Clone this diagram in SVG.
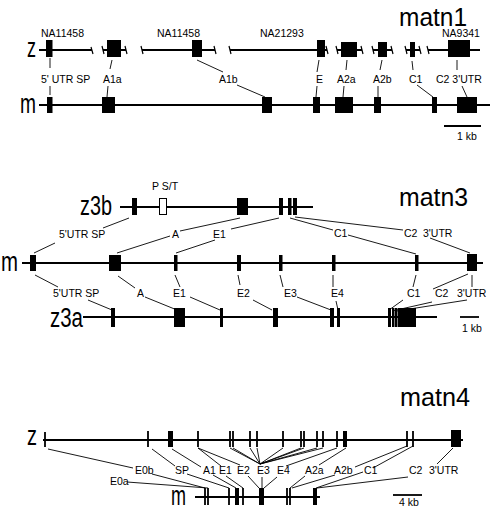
<svg xmlns="http://www.w3.org/2000/svg" width="492" height="508" viewBox="0 0 492 508">
<style>
.ln{stroke:#000;stroke-width:1.8;fill:none}
.tk{stroke:#000;stroke-width:1.2;fill:none}
.cn{stroke:#000;stroke-width:0.9;fill:none}
.ex{fill:#000}
.op{fill:#fff;stroke:#000;stroke-width:1}
.lb{font-family:"Liberation Sans",Arial,sans-serif;font-size:10.5px;fill:#000}
.big{font-family:"Liberation Sans",Arial,sans-serif;font-size:27px;fill:#000}
.ttl{font-family:"Liberation Sans",Arial,sans-serif;font-size:25px;fill:#000}
</style>
<rect width="492" height="508" fill="#fff"/>

<!-- matn1 -->
<g id="matn1-title"><text class="ttl" x="399" y="26" textLength="68" lengthAdjust="spacingAndGlyphs">matn1</text></g>
<g id="matn1-z">
<text class="big" x="27" y="57" textLength="9" lengthAdjust="spacingAndGlyphs">z</text>
<path class="ln" d="M39 50H92M103 50H126M142 50H215M230 50H327M337 50H362M373 50H392M406 50H420M428 50H480"/>
<path class="tk" d="M91 47L93 54M102 46L104 54M125 46L127 54M141 46L143 54M214 46L216 54M229 46L231 54M326 46L328 54M336 46L338 54M361 46L363 54M372 46L374 54M391 46L393 54M405 46L407 54M419 46L421 54M427 46L429 54"/>
<rect class="ex" x="46" y="40" width="6.5" height="17"/>
<rect class="ex" x="107" y="40" width="14" height="17"/>
<rect class="ex" x="192" y="40" width="10" height="17"/>
<rect class="ex" x="317" y="40" width="8" height="17"/>
<rect class="ex" x="341" y="42" width="16" height="15"/>
<rect class="ex" x="378" y="42" width="9" height="15"/>
<rect class="ex" x="410" y="42" width="5" height="15"/>
<rect class="ex" x="448" y="40" width="22" height="17"/>
<text class="lb" x="41" y="37">NA11458</text>
<text class="lb" x="157" y="37">NA11458</text>
<text class="lb" x="260" y="37">NA21293</text>
<text class="lb" x="442" y="37">NA9341</text>
</g>
<g id="matn1-m">
<text class="big" x="20" y="113" textLength="16" lengthAdjust="spacingAndGlyphs">m</text>
<path class="ln" d="M39 105H490"/>
<rect class="ex" x="47" y="97" width="5.5" height="16"/>
<rect class="ex" x="102" y="97" width="13" height="16"/>
<rect class="ex" x="262" y="97" width="10" height="16"/>
<rect class="ex" x="313" y="97" width="7" height="16"/>
<rect class="ex" x="335" y="97" width="18" height="16"/>
<rect class="ex" x="374" y="97" width="7" height="16"/>
<rect class="ex" x="432" y="97" width="5" height="16"/>
<rect class="ex" x="457" y="97" width="20" height="16"/>
</g>
<g id="matn1-labels">
<text class="lb" x="41" y="83">5' UTR SP</text>
<text class="lb" x="103" y="83">A1a</text>
<text class="lb" x="219" y="83">A1b</text>
<text class="lb" x="316" y="83">E</text>
<text class="lb" x="337" y="83">A2a</text>
<text class="lb" x="373" y="83">A2b</text>
<text class="lb" x="409" y="83">C1</text>
<text class="lb" x="436" y="83">C2 3'UTR</text>
</g>
<g id="matn1-scale">
<path class="ln" d="M444 126H481"/>
<text class="lb" x="457" y="140">1 kb</text>
</g>

<!-- matn3 -->
<g id="matn3-title"><text class="ttl" x="399" y="206" textLength="69" lengthAdjust="spacingAndGlyphs">matn3</text></g>
<g id="matn3-z3b">
<text class="big" x="80" y="215" textLength="32" lengthAdjust="spacingAndGlyphs">z3b</text>
<path class="ln" d="M120 207H313"/>
<rect class="ex" x="132" y="198" width="5" height="17"/>
<rect class="op" x="159.5" y="198.5" width="7" height="16"/>
<rect class="ex" x="237" y="198" width="11" height="17"/>
<rect class="ex" x="279" y="198" width="4" height="17"/>
<rect class="ex" x="288" y="198" width="3.5" height="17"/>
<rect class="ex" x="293" y="198" width="4" height="17"/>
<text class="lb" x="152" y="190">P S/T</text>
</g>
<g id="matn3-m">
<text class="big" x="1" y="271" textLength="17" lengthAdjust="spacingAndGlyphs">m</text>
<path class="ln" d="M22 263H483"/>
<rect class="ex" x="30" y="255" width="6" height="16"/>
<rect class="ex" x="109" y="255" width="12" height="16"/>
<rect class="ex" x="174" y="255" width="3.5" height="16"/>
<rect class="ex" x="237" y="255" width="4" height="16"/>
<rect class="ex" x="279" y="255" width="3.5" height="16"/>
<rect class="ex" x="332" y="255" width="3.5" height="16"/>
<rect class="ex" x="415" y="255" width="3.5" height="16"/>
<rect class="ex" x="467" y="254" width="10" height="17"/>
</g>
<g id="matn3-z3a">
<text class="big" x="50" y="327" textLength="33" lengthAdjust="spacingAndGlyphs">z3a</text>
<path class="ln" d="M83 317H437"/>
<rect class="ex" x="111" y="308" width="4" height="19"/>
<rect class="ex" x="174" y="308" width="11" height="19"/>
<rect class="ex" x="220" y="308" width="3" height="19"/>
<rect class="ex" x="273" y="308" width="5" height="19"/>
<rect class="ex" x="330" y="308" width="4" height="19"/>
<rect class="ex" x="337" y="308" width="3" height="19"/>
<rect class="ex" x="388" y="308" width="3" height="19"/>
<rect class="ex" x="392" y="308" width="2.5" height="19"/>
<rect class="ex" x="395" y="308" width="2.5" height="19"/>
<rect class="ex" x="398" y="308" width="18" height="19"/>
</g>
<g id="matn3-labels">
<text class="lb" x="59" y="238">5'UTR SP</text>
<text class="lb" x="172" y="238">A</text>
<text class="lb" x="213" y="238">E1</text>
<text class="lb" x="334" y="237">C1</text>
<text class="lb" x="404" y="237">C2</text>
<text class="lb" x="423" y="237">3'UTR</text>
<text class="lb" x="53" y="297">5'UTR SP</text>
<text class="lb" x="137" y="297">A</text>
<text class="lb" x="173" y="297">E1</text>
<text class="lb" x="237" y="297">E2</text>
<text class="lb" x="284" y="297">E3</text>
<text class="lb" x="331" y="297">E4</text>
<text class="lb" x="407" y="297">C1</text>
<text class="lb" x="435" y="297">C2</text>
<text class="lb" x="457" y="297">3'UTR</text>
</g>
<g id="matn3-scale">
<path class="ln" d="M460 317H479"/>
<text class="lb" x="462" y="332">1 kb</text>
</g>

<!-- matn4 -->
<g id="matn4-title"><text class="ttl" x="400" y="406" textLength="70" lengthAdjust="spacingAndGlyphs">matn4</text></g>
<g id="matn4-z">
<text class="big" x="27" y="445" textLength="10" lengthAdjust="spacingAndGlyphs">z</text>
<path class="ln" d="M43 440H463"/>
<path class="ln" d="M45 432V447M148 431V447M198 431V447M230 431V447M233 431V447M250 431V447M257 431V447M283 431V447M301 431V447M304 431V447M317 431V447M323 431V447M337 431V447M407 431V447M413 431V447"/>
<rect class="ex" x="168" y="431" width="5" height="16"/>
<rect class="ex" x="343" y="431" width="4" height="16"/>
<rect class="ex" x="451" y="430" width="10" height="17"/>
</g>
<g id="matn4-m">
<text class="big" x="171" y="505" textLength="15" lengthAdjust="spacingAndGlyphs">m</text>
<path class="ln" d="M195 497H320"/>
<path class="ln" d="M205 488V505M208 488V505M229 488V505M243 488V505M287 488V505M290 488V505"/>
<rect class="ex" x="235" y="488" width="4" height="17"/>
<rect class="ex" x="259" y="488" width="5" height="17"/>
<rect class="ex" x="313" y="488" width="4" height="17"/>
</g>
<g id="matn4-labels">
<text class="lb" x="135" y="474">E0b</text>
<text class="lb" x="110" y="485">E0a</text>
<text class="lb" x="175" y="474">SP</text>
<text class="lb" x="203" y="474">A1</text>
<text class="lb" x="219" y="474">E1</text>
<text class="lb" x="237" y="474">E2</text>
<text class="lb" x="257" y="474">E3</text>
<text class="lb" x="277" y="474">E4</text>
<text class="lb" x="305" y="474">A2a</text>
<text class="lb" x="334" y="474">A2b</text>
<text class="lb" x="364" y="474">C1</text>
<text class="lb" x="409" y="474">C2</text>
<text class="lb" x="429" y="474">3'UTR</text>
</g>
<g id="matn4-scale">
<path class="ln" d="M393 495H422"/>
<text class="lb" x="399" y="506">4 kb</text>
</g>

<g id="connectors">
<!-- matn1 -->
<path class="cn" d="M50 58L50 68M50 86L50 95"/>
<path class="cn" d="M112 60L110 69M108 86L107 97"/>
<path class="cn" d="M197 60L223 72M237 85L265 97"/>
<path class="cn" d="M319 60L317 72M317 86L316 97"/>
<path class="cn" d="M347 60L346 70M344 86L343 97"/>
<path class="cn" d="M382 60L380 70M378 86L378 97"/>
<path class="cn" d="M412 61L413 70M417 85L433 97"/>
<path class="cn" d="M457 60L457 70M462 86L467 97"/>
<!-- matn3 upper -->
<path class="cn" d="M129 218L103 228M55 243L34 253"/>
<path class="cn" d="M240 218L180 231M170 236L117 253"/>
<path class="cn" d="M279 218L231 229M215 240L176 253"/>
<path class="cn" d="M290 218L333 230M348 235L416 254"/>
<path class="cn" d="M295 217L403 230M430 238L470 253"/>
<!-- matn3 lower -->
<path class="cn" d="M35 275L58 287M88 300L112 310"/>
<path class="cn" d="M118 276L135 288M145 297L177 310"/>
<path class="cn" d="M175 275L180 287M190 297L220 310"/>
<path class="cn" d="M238 275L240 285M253 300L272 310"/>
<path class="cn" d="M280 275L283 287M297 297L331 310"/>
<path class="cn" d="M333 275L333 287M336 301L338 310"/>
<path class="cn" d="M416 275L413 287M403 300L389 310"/>
<path class="cn" d="M468 274L433 289M432 302L392 311"/>
<path class="cn" d="M472 275L472 287M467 300L397 311"/>
<!-- matn4 -->
<path class="cn" d="M48 449L133 468M152 474L205 488"/>
<path class="cn" d="M127 482L208 488"/>
<path class="cn" d="M152 449L175 466M187 474L229 488"/>
<path class="cn" d="M172 449L201 467M213 475L236 488"/>
<path class="cn" d="M198 448L221 466M198 448L240 465M226 476L243 488"/>
<path class="cn" d="M230 448L260 464M233 448L260 464M250 448L260 464M257 448L260 464M283 448L260 464M301 448L260 464M304 448L260 464M317 448L260 464M323 448L260 464"/>
<path class="cn" d="M248 476L259 488M262 477L262 488M277 477L264 488"/>
<path class="cn" d="M337 448L286 466M346 448L319 465"/>
<path class="cn" d="M305 476L290 488M335 475L292 488"/>
<path class="cn" d="M407 446L355 467M413 446L373 468"/>
<path class="cn" d="M363 472L316 488M408 477L317 488"/>
<path class="cn" d="M453 448L437 464"/>
</g>
</svg>
